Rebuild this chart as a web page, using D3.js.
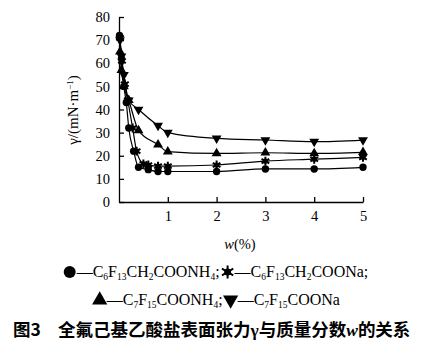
<!DOCTYPE html>
<html><head><meta charset="utf-8">
<script src="https://cdn.jsdelivr.net/npm/d3@7"></script>
<style>body{margin:0;background:#fff}svg{display:block}</style>
</head><body>
<svg id="c" width="427" height="343"></svg>
<script>
// ---- data ----
const xTicks = [1, 2, 3, 4, 5];
const yTicks = [0, 10, 20, 30, 40, 50, 60, 70, 80];
const wNH4C6 = [0.01, 0.05, 0.1, 0.15, 0.2, 0.3, 0.4, 0.6, 0.8, 1, 2, 3, 4, 5];
const gNH4C6 = [72, 62, 50, 43, 32, 22, 15, 14, 13.2, 13.2, 13.2, 14.3, 14.3, 15];
const wNaC6 = [0.02, 0.06, 0.12, 0.18, 0.28, 0.36, 0.5, 0.6, 0.8, 1, 2, 3, 4, 5];
const gNaC6 = [71, 61, 51, 44, 32, 22, 16.5, 16, 15.5, 15.5, 16, 17.7, 18.5, 19.3];
const wNH4C7 = [0.02, 0.05, 0.1, 0.2, 0.4, 0.8, 1, 2, 3, 4, 5];
const gNH4C7 = [65, 57, 50, 44, 31, 24.8, 21.8, 21, 21.3, 21, 21.5];
const wNaC7 = [0.02, 0.05, 0.1, 0.2, 0.4, 0.8, 1, 2, 3, 4, 5];
const gNaC7 = [70, 63, 55, 44, 40, 33, 30, 27.5, 26.8, 26.1, 26.8];

const svg = d3.select("#c");
const x = d3.scaleLinear().domain([0, 5]).range([119, 363]);
const y = d3.scaleLinear().domain([0, 80]).range([202, 17]);
const serif = "'Liberation Serif','Times New Roman',serif";

// axes
const ax = svg.append("g").attr("transform", `translate(${x(0)},0)`)
  .call(d3.axisLeft(y).tickValues(yTicks).tickFormat(d3.format("d")).tickSize(-5).tickSizeOuter(0).tickPadding(9));
const bx = svg.append("g").attr("transform", `translate(0,${y(0)})`)
  .call(d3.axisBottom(x).tickValues(xTicks).tickFormat(d3.format("d")).tickSize(-5).tickSizeOuter(0).tickPadding(9));
[ax, bx].forEach(g => {
  g.selectAll("path,line").attr("stroke", "#000").attr("stroke-width", 1.3);
  g.selectAll("text").attr("font-family", serif).attr("font-size", 14.5).attr("fill", "#000");
});

// y title
svg.append("text").attr("transform", "translate(78,110) rotate(-90)")
  .attr("text-anchor", "middle").attr("font-family", serif).attr("font-size", 15)
  .html('γ/(mN·m<tspan dy="-5" font-size="9">−1</tspan><tspan dy="5">)</tspan>');

// x title
svg.append("text").attr("x", 240).attr("y", 249).attr("text-anchor", "middle")
  .attr("font-family", serif).attr("font-size", 14.5)
  .html('<tspan font-style="italic">w</tspan>(%)');

const series = [
  { w: wNH4C6, g: gNH4C6, m: "circle" },
  { w: wNaC6, g: gNaC6, m: "star" },
  { w: wNH4C7, g: gNH4C7, m: "up" },
  { w: wNaC7, g: gNaC7, m: "down" }
];
const line = d3.line().x(d => x(d[0])).y(d => y(d[1])).curve(d3.curveMonotoneX);

function marker(g, type, cx, cy, big) {
  if (type === "circle") {
    g.append("circle").attr("cx", cx).attr("cy", cy).attr("r", big ? 6 : 3.7).attr("fill", "#000");
  } else if (type === "star") {
    g.append("circle").attr("cx", cx).attr("cy", cy).attr("r", big ? 3.5 : 2.6).attr("fill", "#000");
    g.append("path").attr("d", d3.symbol(d3.symbolAsterisk, big ? 120 : 55)())
      .attr("transform", `translate(${cx},${cy})`).attr("stroke", "#000").attr("stroke-width", 2).attr("fill", "none");
  } else {
    g.append("path").attr("d", d3.symbol(d3.symbolTriangle, big ? 100 : 42)())
      .attr("transform", `translate(${cx},${cy}) rotate(${type === "down" ? 180 : 0})`).attr("fill", "#000");
  }
}

series.forEach(s => {
  const pts = s.w.map((w, i) => [w, s.g[i]]);
  svg.append("path").datum(pts).attr("d", line).attr("fill", "none").attr("stroke", "#000").attr("stroke-width", 1.2);
  const g = svg.append("g");
  pts.forEach(p => marker(g, s.m, x(p[0]), y(p[1]), false));
});

// legend
function chem(t, parts) {
  let shift = 0;
  parts.forEach(p => {
    if (typeof p === "string") {
      const ts = t.append("tspan").text(p);
      if (shift) { ts.attr("dy", -shift); shift = 0; }
    } else {
      t.append("tspan").attr("font-size", 9.5).attr("dy", 3 - shift).text(p[0]);
      shift = 3;
    }
  });
}
function legendLine(yy, items) {
  const g = svg.append("g");
  let cx = 0;
  items.forEach(it => {
    marker(g.append("g"), it.m, cx + 6, yy - 5, true);
    const t = g.append("text").attr("x", cx + 13).attr("y", yy).attr("font-family", serif).attr("font-size", 16);
    chem(t, it.parts);
    cx += 13 + t.node().getComputedTextLength() + 2;
  });
  const bb = g.node().getBBox();
  g.attr("transform", `translate(${216 - (bb.x + bb.width / 2)},0)`);
}
legendLine(277, [
  { m: "circle", parts: ["—C", ["6"], "F", ["13"], "CH", ["2"], "COONH", ["4"], ";"] },
  { m: "star", parts: ["—C", ["6"], "F", ["13"], "CH", ["2"], "COONa;"] }
]);
legendLine(305, [
  { m: "up", parts: ["—C", ["7"], "F", ["15"], "COONH", ["4"], ";"] },
  { m: "down", parts: ["—C", ["7"], "F", ["15"], "COONa"] }
]);

// caption
const cap = svg.append("text").attr("x", 13).attr("y", 336)
  .attr("font-family", "'Noto Sans CJK SC',sans-serif").attr("font-size", 17.5).attr("font-weight", "bold");
cap.append("tspan").text("图3");
cap.append("tspan").attr("x", 58).text("全氟己基乙酸盐表面张力");
cap.append("tspan").attr("font-family", serif).text("γ");
cap.append("tspan").text("与质量分数");
cap.append("tspan").attr("font-family", serif).attr("font-style", "italic").text("w");
cap.append("tspan").text("的关系");
</script>
</body></html>
